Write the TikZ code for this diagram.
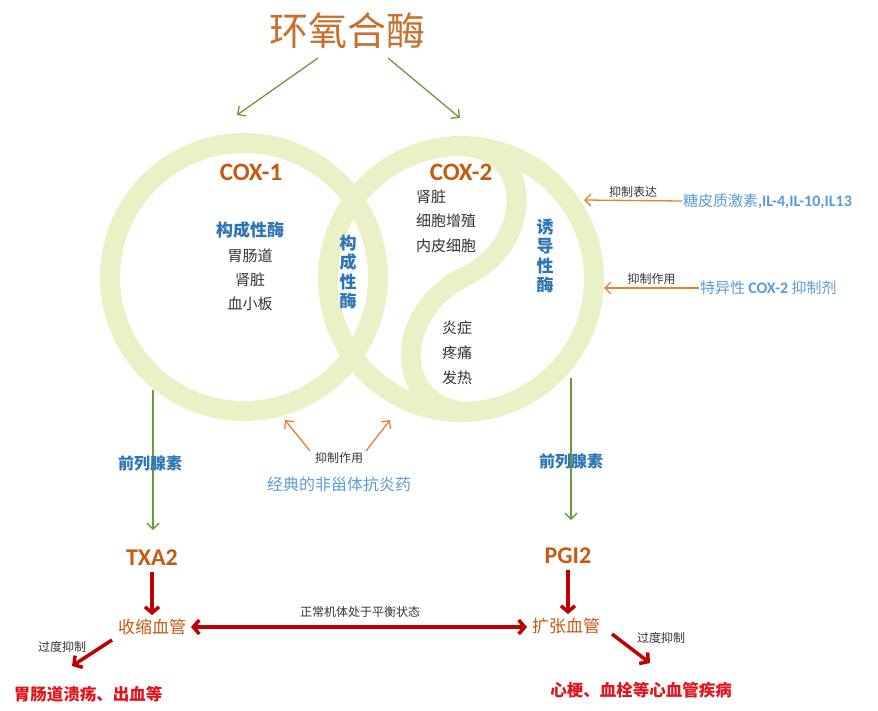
\documentclass[tikz,border=0pt]{standalone}
\usepackage{fontspec}
\setmainfont{Noto Sans CJK SC}
\newfontfamily\latinf{Carlito}
\usetikzlibrary{arrows.meta,calc}
\definecolor{ringc}{HTML}{EBF1C6}
\definecolor{titlec}{HTML}{C8702C}
\definecolor{orgc}{HTML}{C55A11}
\definecolor{bluec}{HTML}{2E75B6}
\definecolor{lblue}{HTML}{5B9BD5}
\definecolor{greenc}{HTML}{6B9A3E}
\definecolor{arrowor}{HTML}{ED7D31}
\definecolor{redc}{HTML}{C00000}
\definecolor{brightred}{HTML}{E0161E}
\definecolor{grayt}{HTML}{333333}
\begin{document}
\begin{tikzpicture}[x=1pt,y=-1pt,
  every node/.style={inner sep=0pt,outer sep=1pt},
  ring/.style={draw=ringc,line width=20pt},
  garrow/.style={draw=greenc,line width=1.3pt,-{Straight Barb[length=6pt,width=12pt]}},
  oarrow/.style={draw=arrowor,line width=1.3pt,-{Straight Barb[length=6pt,width=12pt]}},
  rarrow/.style={draw=redc,line width=3.5pt,-{Straight Barb[length=6pt,width=14pt,line width=3.5pt]}},
  rdouble/.style={draw=redc,line width=3.5pt,{Straight Barb[length=6pt,width=14pt,line width=3.5pt]}-{Straight Barb[length=6pt,width=14pt,line width=3.5pt]}},
  coxlab/.style={font=\latinf\bfseries\fontsize{25}{27}\selectfont,text=orgc},
  bluelab/.style={font=\bfseries\fontsize{17}{19}\selectfont,text=bluec},
  vlab/.style={font=\bfseries\fontsize{17}{19.5}\selectfont,text=bluec,align=center},
  blk/.style={font=\fontsize{15}{17}\selectfont,text=grayt},
  small/.style={font=\fontsize{12}{14}\selectfont,text=grayt},
  orgtext/.style={font=\fontsize{17}{19}\selectfont,text=orgc},
  redtext/.style={font=\bfseries\fontsize{16.5}{18}\selectfont,text=brightred},
  ltblue/.style={font=\fontsize{16}{18}\selectfont,text=lblue}
]
\useasboundingbox (0,0) rectangle (878,710);
% rings
\draw[ring] (244,277) circle[radius=134pt];
\draw[ring] (461,279) circle[radius=133pt];
\draw[ring] (466,147) .. controls (532,150) and (535,242) .. (466,276)
  .. controls (398,308) and (390,398) .. (458,411);

% title
\node[font=\fontsize{39}{41}\selectfont,text=titlec] (title) at (347,31) {环氧合酶};
\coordinate (g1s) at (318,58);
\coordinate (g1e) at (237,115);
\coordinate (g2s) at (388,58);
\coordinate (g2e) at (460,118);
\draw[garrow] (g1s) -- (g1e);
\draw[garrow] (g2s) -- (g2e);

% COX-1 contents
\node[coxlab] (cox1) at (251,172) {COX-1};
\node[bluelab] (gc1) at (250,230) {构成性酶};
\node[blk] (w1) at (250,256) {胃肠道};
\node[blk] (w2) at (250,280) {肾脏};
\node[blk] (w3) at (250,304) {血小板};
\node[vlab] (lens) at (348,272) {构\\成\\性\\酶};

% COX-2 contents
\node[coxlab] (cox2) at (461,172) {COX-2};
\node[blk,anchor=west] (k1) at (415,197) {肾脏};
\node[blk,anchor=west] (k2) at (415,221) {细胞增殖};
\node[blk,anchor=west] (k3) at (415,246) {内皮细胞};
\node[vlab] (ind) at (545,256) {诱\\导\\性\\酶};
\node[blk] (y1) at (457,328) {炎症};
\node[blk] (y2) at (457,353) {疼痛};
\node[blk] (y3) at (457,378) {发热};

% right side inhibitors
\node[anchor=west,font=\fontsize{15}{17}\selectfont,text=lblue] (gluco) at (682,201) {糖皮质激素\latinf\bfseries\fontsize{16}{18}\selectfont ,IL-4,IL-10,IL13};
\coordinate (r1e) at (584,200);
\draw[oarrow] (gluco.west) -- (r1e) node[midway,above=2pt,small] (lb1) {抑制表达};
\node[anchor=west,font=\fontsize{15}{17}\selectfont,text=lblue] (spec) at (699,288) {特异性 {\latinf\bfseries\fontsize{16}{18}\selectfont COX-2} 抑制剂};
\coordinate (r2e) at (604,288);
\draw[oarrow] (spec.west) -- (r2e) node[midway,above=2pt,small] (lb2) {抑制作用};

% NSAIDs
\node[small] (inh) at (339,458) {抑制作用};
\node[ltblue] (nsaid) at (339,484) {经典的非甾体抗炎药};
\coordinate (n1s) at (310,451);
\coordinate (n2s) at (366,451);
\coordinate (n1e) at (285,420);
\coordinate (n2e) at (390,420);
\draw[oarrow] (n1s) -- (n1e);
\draw[oarrow] (n2s) -- (n2e);

% prostaglandin branches
\node[font=\latinf\bfseries\fontsize{24}{26}\selectfont,text=orgc] (txa) at (152,558) {TXA2};
\node[font=\latinf\bfseries\fontsize{24}{26}\selectfont,text=orgc] (pgi) at (568,556) {PGI2};
\coordinate (p1s) at (153,390);
\coordinate (p1e) at (153,530);
\coordinate (p2s) at (571,378);
\coordinate (p2e) at (571,520);
\draw[garrow] (p1s) -- (p1e);
\draw[garrow] (p2s) -- (p2e);
\node[font=\bfseries\fontsize{16}{18}\selectfont,text=bluec] (pl1) at (150,463) {前列腺素};
\node[font=\bfseries\fontsize{16}{18}\selectfont,text=bluec] (pl2) at (571,461) {前列腺素};

% vessels
\node[orgtext] (shou) at (152,627) {收缩血管};
\node[orgtext] (kuo) at (566,626) {扩张血管};
\draw[rarrow] ($(txa.south)+(0,5)$) -- ($(txa.south |- shou.north)+(0,-3)$);
\draw[rarrow] ($(pgi.south)+(0,5)$) -- ($(pgi.south |- kuo.north)+(0,-3)$);
\coordinate (db1) at ($(shou.east)+(4,0)$);
\draw[rdouble] (db1) -- ($(db1 -| kuo.west)+(-4,0)$);
\node[small] (bal) at (360,612) {正常机体处于平衡状态};

% outcomes
\node[redtext] (gi) at (88,694) {胃肠道溃疡、出血等};
\node[redtext] (heart) at (641,690) {心梗、血栓等心血管疾病};
\coordinate (o1s) at (112,640);
\coordinate (o1e) at (72,666);
\draw[rarrow] (o1s) -- (o1e);
\node[small] (ov1) at (62,647) {过度抑制};
\coordinate (o2s) at (612,634);
\coordinate (o2e) at (650,663);
\draw[rarrow] (o2s) -- (o2e);
\node[small] (ov2) at (661,638) {过度抑制};
\end{tikzpicture}
\end{document}
